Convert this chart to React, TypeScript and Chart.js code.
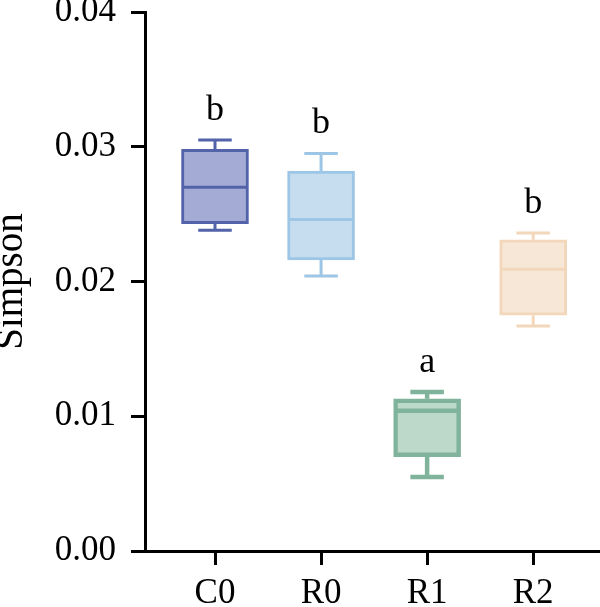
import { useEffect, useRef } from 'react';
import { Chart, registerables } from 'chart.js';

Chart.register(...registerables);

// Simpson diversity index per treatment group (box plot summary)
const groups = ['C0', 'R0', 'R1', 'R2'];
const whiskerLow = [0.0238, 0.0204, 0.0055, 0.0167];
const q1 = [0.0243, 0.0216, 0.007, 0.0175];
const median = [0.027, 0.0246, 0.0104, 0.0209];
const q3 = [0.0298, 0.0282, 0.0113, 0.0231];
const whiskerHigh = [0.0305, 0.0295, 0.0118, 0.0236];
const significance = ['b', 'b', 'a', 'b'];
const yTickValues = [0, 0.01, 0.02, 0.03, 0.04];

const fills = ['#a4acd6', '#c5ddef', '#bcd9c9', '#f7e7d7'];
const strokes = ['#5363a9', '#9dc6e6', '#80b39b', '#f2d7bb'];
const strokeWidths = [3, 3, 4.5, 3];

const FONT = "'Liberation Serif', 'Times New Roman', serif";
const BOX_WIDTH = 67;

// Whiskers, caps, median lines and significance letters on top of the boxes
const boxExtras = {
  id: 'boxExtras',
  afterDatasetsDraw(chart: any) {
    const { ctx, scales } = chart;
    const xs = scales.x;
    const ys = scales.y;
    ctx.save();
    groups.forEach((_, i) => {
      const cx = xs.getPixelForValue(i);
      const yLow = ys.getPixelForValue(whiskerLow[i]);
      const yQ1 = ys.getPixelForValue(q1[i]);
      const yMed = ys.getPixelForValue(median[i]);
      const yQ3 = ys.getPixelForValue(q3[i]);
      const yHigh = ys.getPixelForValue(whiskerHigh[i]);
      const lw = strokeWidths[i];
      ctx.strokeStyle = strokes[i];
      ctx.lineWidth = lw;
      ctx.lineCap = 'butt';
      ctx.beginPath();
      // stems
      ctx.moveTo(cx, yQ3);
      ctx.lineTo(cx, yHigh);
      ctx.moveTo(cx, yQ1);
      ctx.lineTo(cx, yLow);
      // caps
      const cap = BOX_WIDTH / 4;
      ctx.moveTo(cx - cap, yHigh);
      ctx.lineTo(cx + cap, yHigh);
      ctx.moveTo(cx - cap, yLow);
      ctx.lineTo(cx + cap, yLow);
      // median
      const half = BOX_WIDTH / 2 - lw / 2;
      ctx.moveTo(cx - half, yMed);
      ctx.lineTo(cx + half, yMed);
      ctx.stroke();

      ctx.fillStyle = '#000';
      ctx.font = `36px ${FONT}`;
      ctx.textAlign = 'center';
      ctx.textBaseline = 'alphabetic';
      ctx.fillText(significance[i], cx, yHigh - 20);
    });
    ctx.restore();
  },
};

export default function App() {
  const canvasRef = useRef<HTMLCanvasElement | null>(null);

  useEffect(() => {
    if (!canvasRef.current) return;
    const chart = new Chart(canvasRef.current, {
      type: 'bar',
      data: {
        datasets: [
          {
            data: groups.map((_, i) => ({ x: i, y: [q1[i], q3[i]] })) as any,
            backgroundColor: fills,
            borderColor: strokes,
            borderWidth: strokeWidths,
            borderSkipped: false,
            barThickness: BOX_WIDTH,
          },
        ],
      },
      options: {
        responsive: false,
        animation: false,
        devicePixelRatio: 1,
        layout: { padding: { top: 12, right: 0, left: 0, bottom: 0 } },
        plugins: {
          legend: { display: false },
          tooltip: { enabled: false },
        },
        scales: {
          x: {
            type: 'linear',
            min: -0.66,
            max: 3.63,
            offset: false,
            afterBuildTicks: (s: any) => {
              s.ticks = groups.map((_, i) => ({ value: i }));
            },
            afterFit: (s: any) => {
              s.height = 56;
              s.paddingLeft = 0;
              s.paddingRight = 0;
            },
            ticks: {
              autoSkip: false,
              maxRotation: 0,
              padding: 8,
              color: '#000',
              font: { family: FONT, size: 35 },
              callback: (v: any) => groups[v] ?? '',
            },
            grid: {
              display: true,
              offset: false,
              drawOnChartArea: false,
              drawTicks: true,
              tickLength: 14,
              tickWidth: 3,
              color: '#000',
            },
            border: { display: true, color: '#000', width: 3 },
          },
          y: {
            type: 'linear',
            min: 0,
            max: 0.04,
            afterBuildTicks: (s: any) => {
              s.ticks = yTickValues.map((v) => ({ value: v }));
            },
            afterFit: (s: any) => {
              s.width = 145;
              s.paddingTop = 0;
              s.paddingBottom = 0;
            },
            ticks: {
              padding: 15,
              color: '#000',
              font: { family: FONT, size: 35 },
              callback: (v: any) => Number(v).toFixed(2),
            },
            grid: {
              display: true,
              drawOnChartArea: false,
              drawTicks: true,
              tickLength: 14,
              tickWidth: 3,
              color: '#000',
            },
            border: { display: true, color: '#000', width: 3 },
            title: {
              display: true,
              text: 'Simpson',
              color: '#000',
              padding: 0,
              font: { family: FONT, size: 39, lineHeight: 0.58 },
            },
          },
        },
      },
      plugins: [boxExtras],
    });
    return () => chart.destroy();
  }, []);

  return (
    <div style={{ position: 'absolute', left: 0, top: 0, width: 600, height: 607, background: '#fff' }}>
      <canvas ref={canvasRef} width={600} height={607} style={{ display: 'block' }} />
    </div>
  );
}
